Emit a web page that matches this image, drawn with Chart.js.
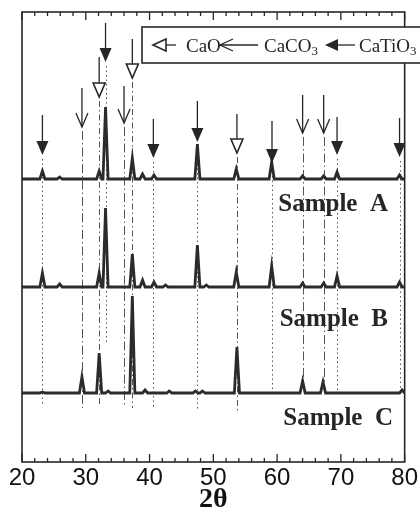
<!DOCTYPE html>
<html>
<head>
<meta charset="utf-8">
<script src="https://cdn.jsdelivr.net/npm/chart.js@4/dist/chart.umd.min.js"></script>
<style>
  html, body { margin: 0; padding: 0; background: #fff; }
  #wrap { width: 420px; height: 510px; }
</style>
</head>
<body>
<div id="wrap"><canvas id="xrdChart" width="420" height="510"></canvas></div>
<script>
// peak positions (2theta, deg) and heights
var sampleAPos = [23.2, 25.9, 32.1, 33.1, 37.3, 38.9, 40.7, 47.5, 53.6, 59.15, 64.0, 67.3, 69.4, 79.2];
var sampleAInt = [8, 2, 8, 72, 21, 5, 4, 35, 10, 17, 3, 3, 7, 4];

var sampleBPos = [23.2, 25.9, 32.1, 33.1, 37.3, 38.9, 40.7, 42.5, 47.5, 48.9, 53.6, 59.15, 64.0, 67.3, 69.4, 79.2];
var sampleBInt = [14, 3, 14, 79, 33, 7, 5, 2, 42, 2, 15, 21, 4, 4, 11, 5];

var sampleCPos = [23.2, 29.4, 32.1, 33.5, 37.3, 39.3, 43.1, 47.2, 48.3, 53.7, 64.0, 67.2, 79.6];
var sampleCInt = [1, 16, 40, 2, 97, 3, 2, 2, 2, 46, 12, 11, 3];

var sampleNames = ['Sample  A', 'Sample  B', 'Sample  C'];

// reference peaks of each phase
var caTiO3Peaks = [23.2, 33.1, 40.6, 47.5, 59.2, 69.4, 79.2];
var caOPeaks = [32.1, 37.3, 53.7];
var caCO3Peaks = [29.4, 36.0, 64.0, 67.3];

var xTicks = [20, 30, 40, 50, 60, 70, 80];

// ---- layout (pixels) ----
var baseLines = [283, 175, 69];     // vertical offset of each trace on the y scale
var halfWidth = 0.4;                // peak half width at base, deg
// arrow top / tip / dashed-line end, px from the top of the canvas
var arrowLayout = {
  caTiO3: [[115,155,406],[23,62,343],[119,158,407],[101,142,410],[121,163,393],[117,155,393],[118,157,393]],
  caO:    [[57,97,406],[39,78,408],[114,153,413]],
  caCO3:  [[88,127,408],[86,123,407],[95,133,390],[95,133,390]]
};
var dashStyle = { caTiO3: [1.5, 3], caO: [6, 3, 1.5, 3], caCO3: [9, 3, 1.5, 3] };
var labelPos = [[388, 211], [388, 326], [393, 425]];

function buildTrace(pos, ints, base) {
  var pts = [{x: 20, y: base}];
  for (var i = 0; i < pos.length; i++) {
    pts.push({x: pos[i] - halfWidth, y: base});
    pts.push({x: pos[i], y: base + ints[i]});
    pts.push({x: pos[i] + halfWidth, y: base});
  }
  pts.push({x: 80, y: base});
  return pts;
}

var ink = '#262626';

function arrowDown(ctx, x, top, tip, kind) {
  var hh = 14, hw = 6;
  ctx.save();
  ctx.strokeStyle = ink;
  ctx.fillStyle = ink;
  ctx.lineWidth = 1.3;
  ctx.setLineDash([]);
  ctx.beginPath();
  ctx.moveTo(x, top);
  ctx.lineTo(x, kind === 'caCO3' ? tip : tip - hh);
  ctx.stroke();
  ctx.beginPath();
  if (kind === 'caCO3') {
    ctx.moveTo(x - hw, tip - hh);
    ctx.lineTo(x, tip);
    ctx.lineTo(x + hw, tip - hh);
    ctx.stroke();
  } else {
    ctx.moveTo(x - hw, tip - hh);
    ctx.lineTo(x + hw, tip - hh);
    ctx.lineTo(x, tip);
    ctx.closePath();
    if (kind === 'caTiO3') { ctx.fill(); }
    else { ctx.fillStyle = '#fff'; ctx.fill(); ctx.lineWidth = 1.6; ctx.stroke(); }
  }
  ctx.restore();
}

function arrowLeft(ctx, tipX, y, tail, kind) {
  var hh = 13, hw = 6;
  ctx.save();
  ctx.strokeStyle = ink;
  ctx.fillStyle = ink;
  ctx.lineWidth = 1.3;
  ctx.beginPath();
  ctx.moveTo(tail, y);
  ctx.lineTo(kind === 'caCO3' ? tipX : tipX + hh, y);
  ctx.stroke();
  ctx.beginPath();
  if (kind === 'caCO3') {
    ctx.moveTo(tipX + hh, y - hw);
    ctx.lineTo(tipX, y);
    ctx.lineTo(tipX + hh, y + hw);
    ctx.stroke();
  } else {
    ctx.moveTo(tipX + hh, y - hw);
    ctx.lineTo(tipX + hh, y + hw);
    ctx.lineTo(tipX, y);
    ctx.closePath();
    if (kind === 'caTiO3') { ctx.fill(); }
    else { ctx.fillStyle = '#fff'; ctx.fill(); ctx.lineWidth = 1.6; ctx.stroke(); }
  }
  ctx.restore();
}

function chemText(ctx, x, y, main, sub) {
  ctx.font = '19px "Liberation Serif", "DejaVu Serif", serif';
  ctx.fillText(main, x, y);
  if (sub) {
    var w = ctx.measureText(main).width;
    ctx.font = '13px "Liberation Serif", "DejaVu Serif", serif';
    ctx.fillText(sub, x + w, y + 3);
  }
}

var phaseList = [['caTiO3', caTiO3Peaks], ['caO', caOPeaks], ['caCO3', caCO3Peaks]];

var xrdDecor = {
  id: 'xrdDecor',
  beforeDatasetsDraw: function(chart) {
    var ctx = chart.ctx, xs = chart.scales.x;
    ctx.save();
    ctx.strokeStyle = '#555';
    ctx.lineWidth = 1;
    phaseList.forEach(function(ph) {
      ctx.setLineDash(dashStyle[ph[0]]);
      ph[1].forEach(function(p, i) {
        var lay = arrowLayout[ph[0]][i];
        var x = Math.round(xs.getPixelForValue(p)) + 0.5;
        ctx.beginPath();
        ctx.moveTo(x, lay[1] + 4);
        ctx.lineTo(x, lay[2]);
        ctx.stroke();
      });
    });
    ctx.restore();
  },
  afterDatasetsDraw: function(chart) {
    var ctx = chart.ctx, xs = chart.scales.x, a = chart.chartArea;
    ctx.save();
    // frame
    ctx.strokeStyle = ink;
    ctx.lineWidth = 1.6;
    ctx.strokeRect(a.left, a.top, a.right - a.left, a.bottom - a.top);
    // inward ticks on top and bottom
    ctx.lineWidth = 1.3;
    xs.ticks.forEach(function(t) {
      var x = xs.getPixelForValue(t.value);
      var len = t.value % 10 === 0 ? 8 : 4;
      ctx.beginPath();
      ctx.moveTo(x, a.bottom); ctx.lineTo(x, a.bottom - len);
      ctx.moveTo(x, a.top); ctx.lineTo(x, a.top + len);
      ctx.stroke();
    });
    // arrows above the peaks
    phaseList.forEach(function(ph) {
      ph[1].forEach(function(p, i) {
        var lay = arrowLayout[ph[0]][i];
        arrowDown(ctx, xs.getPixelForValue(p), lay[0], lay[1], ph[0]);
      });
    });
    // legend box
    ctx.fillStyle = '#fff';
    ctx.fillRect(142, 27, 290, 36);
    ctx.strokeStyle = ink;
    ctx.lineWidth = 1.6;
    ctx.strokeRect(142, 27, 290, 36);
    arrowLeft(ctx, 153, 45, 176, 'caO');
    arrowLeft(ctx, 220, 45, 258, 'caCO3');
    arrowLeft(ctx, 325, 45, 355, 'caTiO3');
    ctx.fillStyle = ink;
    ctx.textBaseline = 'alphabetic';
    ctx.textAlign = 'left';
    chemText(ctx, 186, 52, 'CaO');
    chemText(ctx, 264, 52, 'CaCO', '3');
    chemText(ctx, 359, 52, 'CaTiO', '3');
    // sample names
    ctx.font = 'bold 25px "Liberation Serif", "DejaVu Serif", serif';
    ctx.textAlign = 'right';
    chart.data.datasets.forEach(function(ds, i) {
      ctx.fillText(ds.label, labelPos[i][0], labelPos[i][1]);
    });
    ctx.restore();
  }
};

var datasets = [
  {label: sampleNames[0], data: buildTrace(sampleAPos, sampleAInt, baseLines[0])},
  {label: sampleNames[1], data: buildTrace(sampleBPos, sampleBInt, baseLines[1])},
  {label: sampleNames[2], data: buildTrace(sampleCPos, sampleCInt, baseLines[2])}
].map(function(d) {
  d.borderColor = '#2b2b2b';
  d.borderWidth = 2.8;
  d.pointRadius = 0;
  d.tension = 0;
  d.fill = false;
  return d;
});

var xrd = new Chart(document.getElementById('xrdChart'), {
  type: 'line',
  data: { datasets: datasets },
  options: {
    responsive: false,
    animation: false,
    devicePixelRatio: 1,
    layout: { padding: { left: 22, right: 14, top: 12, bottom: 0 } },
    plugins: { legend: { display: false }, tooltip: { enabled: false } },
    scales: {
      x: {
        type: 'linear', min: 20, max: 80,
        border: { display: false },
        grid: { display: false, drawTicks: false },
        ticks: {
          stepSize: 2, autoSkip: false, maxRotation: 0, padding: 2,
          color: '#111',
          font: { family: '"Liberation Sans", Arial, sans-serif', size: 24 },
          callback: function(v) { return xTicks.indexOf(v) >= 0 ? String(v) : ''; }
        },
        title: {
          display: true, text: '2θ', color: '#111',
          font: { family: '"Liberation Serif", "DejaVu Serif", serif', weight: 'bold', size: 28, lineHeight: 0.72 },
          padding: { top: 0, bottom: 0 }
        },
        afterFit: function(s) { s.height = 48; }
      },
      y: { display: false, min: 0, max: 450 }
    }
  },
  plugins: [xrdDecor]
});
</script>
</body>
</html>
